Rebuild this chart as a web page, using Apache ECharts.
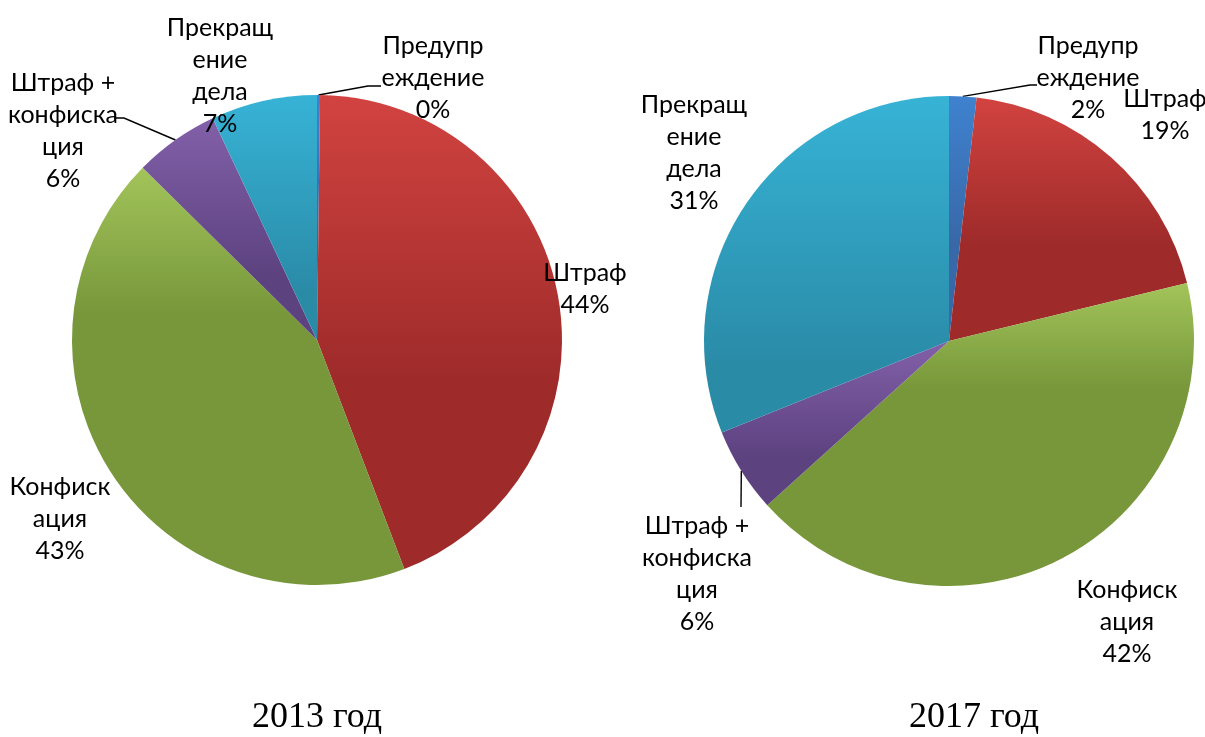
<!DOCTYPE html>
<html>
<head>
<meta charset="utf-8">
<script src="https://cdn.jsdelivr.net/npm/echarts@6/dist/echarts.min.js"></script>
<style>
html,body{margin:0;padding:0;background:#fff;}
#c{width:1205px;height:737px;}
</style>
</head>
<body>
<div id="c"></div>
<script>
// ---- data ----
const categories = ['Предупреждение', 'Штраф', 'Конфискация', 'Штраф + конфискация', 'Прекращение дела'];
const labelText = ['Предупр\nеждение', 'Штраф', 'Конфиск\nация', 'Штраф +\nконфиска\nция', 'Прекращ\nение\nдела'];
const values2013 = [0.2, 44.0, 43.2, 5.6, 7.0];
const values2017 = [1.8, 19.4, 42.1, 5.6, 31.1];
const titles = ['2013 год', '2017 год'];

// ---- styles ----
const grads = [
  ['#3f82cf', '#3868a8', 0.6],
  ['#d14340', '#9e2b2a', 0.6],
  ['#a2c45a', '#77973a', 0.35],
  ['#8260a9', '#5d4280', 0.7],
  ['#37b3d6', '#2a8ba7', 0.8]
];
function grad(i) {
  return new echarts.graphic.LinearGradient(0, 0, 0, 1, [
    {offset: 0, color: grads[i][0]},
    {offset: grads[i][2], color: grads[i][1]},
    {offset: 1, color: grads[i][1]}
  ]);
}
const FONT = 'Lato, "Noto Sans", sans-serif';
const R = 245;
const centers = [[317, 340], [949, 341]];
// label block centres per series
const labelPos = [
  [[433, 78], [585, 289], [60, 519], [63, 131], [220, 76]],
  [[1088, 78], [1165, 115], [1127, 622], [697, 574], [694, 153]]
];
// leader-line elbows (after the start point on the slice rim)
const leaderTail = [
  {0: [[368, 86], [381, 86]], 3: [[124, 118], [114, 118]]},
  {0: [[1030, 85], [1037, 85]], 3: [[741, 507]]}
];
const seriesValues = [values2013, values2017];

function rimPoint(s, idx) {
  const vals = seriesValues[s];
  const total = vals.reduce((a, b) => a + b, 0);
  let cum = 0;
  for (let i = 0; i < idx; i++) cum += vals[i];
  const mid = (cum + vals[idx] / 2) / total * 2 * Math.PI;
  return [centers[s][0] + R * Math.sin(mid), centers[s][1] - R * Math.cos(mid)];
}

function makeSeries(s) {
  const vals = seriesValues[s];
  return {
    type: 'pie',
    center: centers[s],
    radius: R,
    startAngle: 90,
    clockwise: true,
    percentPrecision: 0,
    avoidLabelOverlap: false,
    animation: false,
    itemStyle: {borderWidth: 0},
    label: {
      show: true,
      position: 'outside',
      formatter: p => labelText[p.dataIndex] + '\n' + p.percent + '%',
      fontFamily: FONT,
      fontSize: 25,
      lineHeight: 32,
      color: '#000',
      align: 'center'
    },
    labelLine: {show: true, lineStyle: {color: '#000', width: 1.4}},
    labelLayout: function (params) {
      const i = params.dataIndex;
      const pos = labelPos[s][i];
      const out = {x: pos[0], y: pos[1], align: 'center', verticalAlign: 'middle'};
      const tail = leaderTail[s][i];
      if (tail) out.labelLinePoints = [rimPoint(s, i)].concat(tail);
      return out;
    },
    data: categories.map((name, i) => ({
      name: name,
      value: vals[i],
      itemStyle: {color: grad(i)},
      labelLine: {show: !!leaderTail[s][i]}
    }))
  };
}

const chart = echarts.init(document.getElementById('c'), null, {renderer: 'canvas'});
chart.setOption({
  backgroundColor: '#fff',
  animation: false,
  series: [makeSeries(0), makeSeries(1)],
  graphic: [
    {type: 'text', x: 317, y: 718, style: {text: titles[0], font: '36px "Liberation Serif", serif', fill: '#000', align: 'center', verticalAlign: 'middle'}},
    {type: 'text', x: 974, y: 718, style: {text: titles[1], font: '36px "Liberation Serif", serif', fill: '#000', align: 'center', verticalAlign: 'middle'}}
  ]
});
</script>
</body>
</html>
